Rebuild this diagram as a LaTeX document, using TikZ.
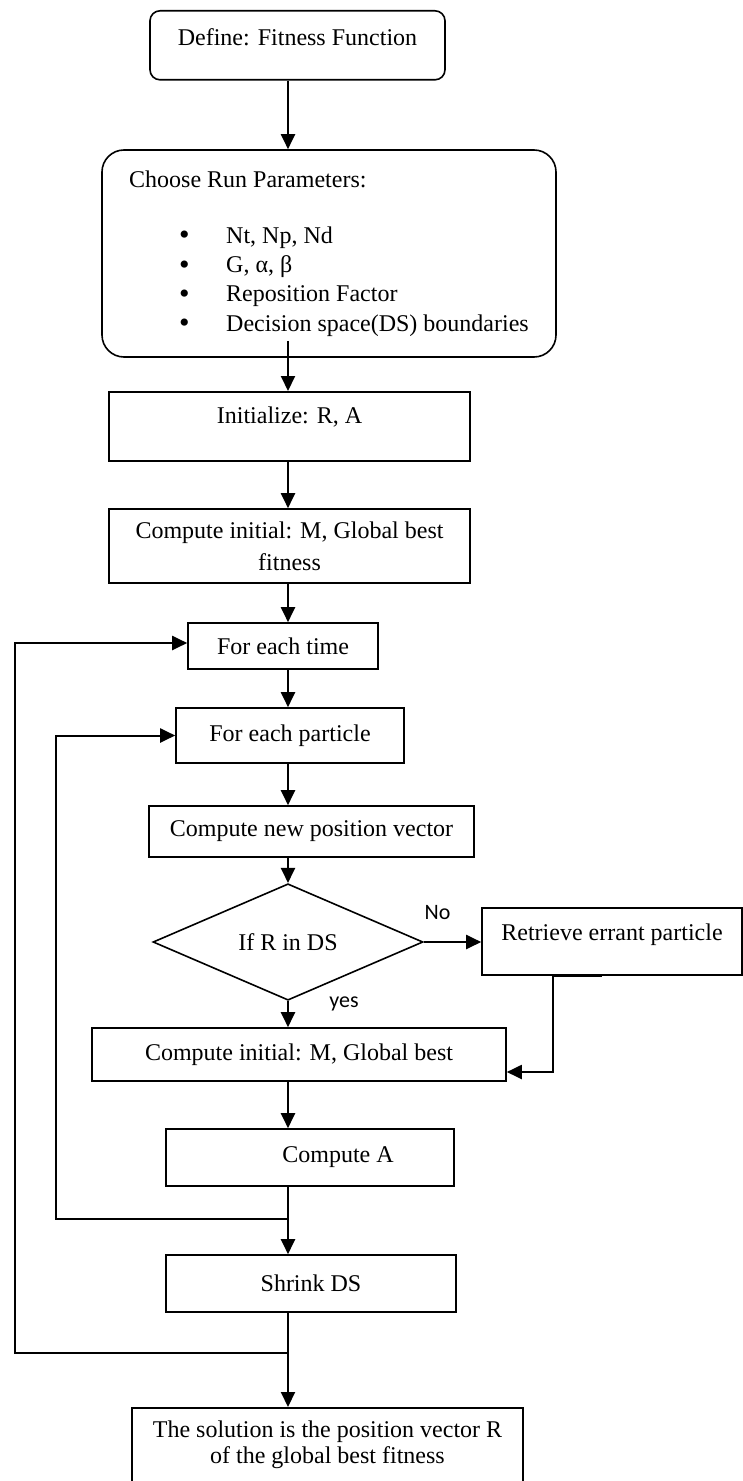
\documentclass[tikz,border=0pt]{standalone}
\usepackage{fontspec}
\setmainfont{Liberation Serif}
\newfontfamily\labelfont{Carlito}
\usetikzlibrary{arrows.meta,shapes.geometric}

\newcommand{\bulletitem}[1]{\hspace*{25pt}\makebox[23.5pt][l]{\raisebox{-0.8pt}[0pt][0pt]{\fontsize{15}{15}\selectfont\textbullet}}#1}

\tikzset{
  box/.style={draw, line width=0.8pt, inner xsep=4pt, inner ysep=0pt,
    font=\fontsize{12}{14.5}\selectfont},
  flow/.style={-{Triangle[length=7.5pt,width=7pt]}, line width=1pt},
  tag/.style={font=\labelfont\fontsize{11}{13}\selectfont, anchor=base, inner sep=0pt}
}

\begin{document}
\begin{tikzpicture}[x=0.5pt,y=-0.5pt]
    \useasboundingbox (0,0) rectangle (743,1481);

    % 主轴
    \coordinate (ax) at (288,0);

    % 适应度函数
    \node[box, rounded corners=5pt, minimum width=147.5pt, text height=17.5pt, text depth=17pt, anchor=north] (def) at (297.5,10) {Define: Fitness Function};

    % 运行参数
    \node[box, rounded corners=11pt, minimum width=227pt, minimum height=103.5pt, align=left, font=\fontsize{12}{14.65}\selectfont] (par) at (329,253.5)
      {Choose Run Parameters:\\[13.35pt]
       \bulletitem{Nt, Np, Nd}\\
       \bulletitem{G, α, β}\\
       \bulletitem{Reposition Factor}\\
       \bulletitem{Decision space(DS) boundaries}};

    % 初始化
    \node[box, minimum width=180.5pt, text height=16pt, text depth=18.5pt, anchor=north] (init) at (289.5,391) {Initialize: R, A};
    \node[box, minimum width=180.5pt, minimum height=37pt, align=center, font=\fontsize{12}{16}\selectfont] (ini) at (289.5,546) {Compute initial: M, Global best\\fitness};

    % 循环
    \node[box, minimum width=95pt, minimum height=23pt] (time) at (283,646) {For each time};
    \node[box, minimum width=114pt, minimum height=27.5pt] (part) at (290,735.5) {For each particle};
    \node[box, minimum width=162.5pt, minimum height=25.5pt] (pos) at (311.5,831.5) {Compute new position vector};

    % 判断
    \node[draw, diamond, line width=0.8pt, minimum width=135pt, minimum height=45pt, inner sep=0pt, font=\fontsize{12}{14.5}\selectfont] (chk) at (288,942) {If R in DS};
    \node[box, minimum width=130pt, text height=16.5pt, text depth=17pt, anchor=north] (ret) at (612,907) {Retrieve errant particle};

    % 更新
    \node[box, minimum width=207pt, minimum height=26.5pt] (best) at (299,1054.5) {Compute initial: M, Global best};
    \node[box, minimum width=144pt, minimum height=28.5pt] (acc) at (310,1157.5) {\hspace*{28pt}Compute A};
    \node[box, minimum width=145pt, minimum height=28.5pt] (shr) at (311,1283.5) {Shrink DS};

    % 结果
    \node[box, minimum width=195.5pt, minimum height=50pt, anchor=north] (sol) at (327.5,1407) {};
    \node[align=center, anchor=north, inner sep=0pt, font=\fontsize{12}{13}\selectfont] (soltxt) at ([yshift=-6.8pt]sol.north) {The solution is the position vector R\\of the global best fitness};

    % 连接线
    \draw[flow] (def.south -| ax) -- (par.north -| ax);
    \draw[flow] (par.south -| ax) ++(0,-17) -- (init.north -| ax);
    \draw[flow] (init.south -| ax) -- (ini.north -| ax);
    \draw[flow] (ini.south -| ax) -- (time.north -| ax);
    \draw[flow] (time.south -| ax) -- (part.north -| ax);
    \draw[flow] (part.south -| ax) -- (pos.north -| ax);
    \draw[flow] (pos.south -| ax) -- (chk.north);
    \draw[flow] (chk.south) -- (best.north -| ax);
    \draw[flow] (chk.east) -- (chk.east -| ret.west);
    \draw[flow] (ret.south) ++(-10,0) -- ++(-49,0) |- ([yshift=-8.75pt]best.east);
    \draw[flow] (best.south -| ax) -- (acc.north -| ax);
    \draw[flow] (acc.south -| ax) -- (shr.north -| ax);
    \draw[flow] (shr.south -| ax) -- (sol.north -| ax);

    % 回路
    \coordinate (j1) at (288,1219);
    \coordinate (j2) at (288,1353);
    \draw[flow] (j1) -- ++(-232,0) |- (part.west);
    \draw[flow] (j2) -- ++(-273,0) |- ([yshift=1.5pt]time.west);

    % 标签
    \node[tag] (no) at (437.5,919) {No};
    \node[tag] (yes) at (344,1007) {yes};

\end{tikzpicture}
\end{document}
